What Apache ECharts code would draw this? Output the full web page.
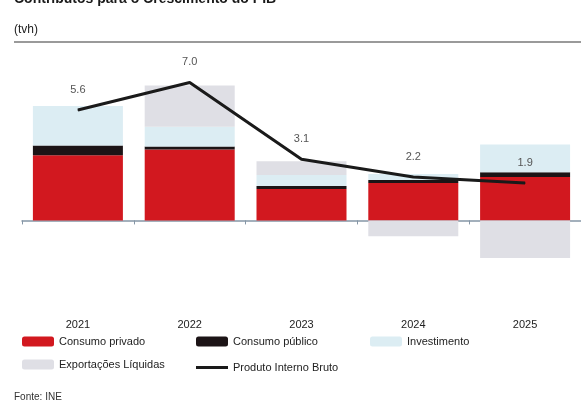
<!DOCTYPE html>
<html>
<head>
<meta charset="utf-8">
<script src="https://cdn.jsdelivr.net/npm/echarts@6/dist/echarts.min.js"></script>
<style>
html,body{margin:0;padding:0;background:#ffffff;}
#chart{width:581px;height:403px;}
</style>
</head>
<body>
<div id="chart"></div>
<script>
const years = ['2021', '2022', '2023', '2024', '2025'];
const consumoPrivado = [3.3, 3.6, 1.6, 1.9, 2.2];
const consumoPublico = [0.5, 0.15, 0.15, 0.15, 0.25];
const investimento = [2.0, 1.0, 0.55, 0.3, 1.4];
const exportacoesLiquidas = [0.0, 2.1, 0.7, -0.8, -1.9];
const pib = [5.6, 7.0, 3.1, 2.2, 1.9];
const pibLabels = ['5.6', '7.0', '3.1', '2.2', '1.9'];

const FONT = 'Liberation Sans, Arial, sans-serif';
const chart = echarts.init(document.getElementById('chart'), null, {renderer: 'canvas'});

const legendBase = {
  itemWidth: 32, itemHeight: 10, itemGap: 10, padding: 0,
  textStyle: {fontSize: 11, color: '#222', fontFamily: FONT}
};

chart.setOption({
  animation: false,
  backgroundColor: '#ffffff',
  textStyle: {fontFamily: FONT},
  graphic: [
    {type: 'text', left: 14, top: -8, style: {text: 'Contributos para o Crescimento do PIB', font: 'bold 14px ' + FONT, fill: '#1a1a1a'}},
    {type: 'text', left: 14, top: 24, style: {text: '(tvh)', font: '12px ' + FONT, fill: '#222'}},
    {type: 'line', shape: {x1: 14, y1: 42, x2: 581, y2: 42}, style: {stroke: '#9a9a9a', lineWidth: 2}},
    {type: 'text', left: 14, top: 392, style: {text: 'Fonte: INE', font: '10px ' + FONT, fill: '#333'}}
  ],
  legend: [
    Object.assign({left: 22, top: 336, data: ['Consumo privado']}, legendBase),
    Object.assign({left: 196, top: 336, data: ['Consumo público']}, legendBase),
    Object.assign({left: 370, top: 336, data: ['Investimento']}, legendBase),
    Object.assign({left: 22, top: 359, data: ['Exportações Líquidas']}, legendBase),
    Object.assign({}, legendBase, {left: 196, top: 362, itemHeight: 3, data: [{name: 'Produto Interno Bruto', icon: 'rect'}]})
  ],
  grid: {left: 22, right: -2, top: 43, bottom: 84, containLabel: false},
  xAxis: [
    {
      type: 'category', data: years, position: 'bottom',
      axisLine: {show: true, onZero: true, lineStyle: {color: '#8596a6', width: 1.5}},
      axisTick: {show: true, length: 4, lineStyle: {color: '#8596a6'}},
      axisLabel: {show: false},
      splitLine: {show: false}
    },
    {
      type: 'category', data: years, position: 'bottom',
      axisLine: {show: false, onZero: false},
      axisTick: {show: false},
      axisLabel: {show: true, margin: 0, fontSize: 11, color: '#222', fontFamily: FONT},
      splitLine: {show: false}
    }
  ],
  yAxis: {type: 'value', min: -5, max: 9, show: false, splitLine: {show: false}},
  series: [
    {name: 'Consumo privado', type: 'bar', stack: 'c', barWidth: 90, data: consumoPrivado, itemStyle: {color: '#d2181f'}},
    {name: 'Consumo público', type: 'bar', stack: 'c', barWidth: 90, data: consumoPublico, itemStyle: {color: '#1c1416'}},
    {name: 'Investimento', type: 'bar', stack: 'c', barWidth: 90, data: investimento, itemStyle: {color: '#dcedf3'}},
    {name: 'Exportações Líquidas', type: 'bar', stack: 'c', barWidth: 90, data: exportacoesLiquidas, itemStyle: {color: '#dfdfe5'}},
    {
      name: 'Produto Interno Bruto', type: 'line', data: pib, symbol: 'circle', symbolSize: 1, showSymbol: true, z: 5,
      lineStyle: {color: '#1a1a1a', width: 3}, itemStyle: {color: '#1a1a1a'},
      label: {show: true, position: 'top', distance: 14, fontSize: 11, color: '#555', fontFamily: FONT,
        formatter: p => pibLabels[p.dataIndex]}
    }
  ]
});
</script>
</body>
</html>
